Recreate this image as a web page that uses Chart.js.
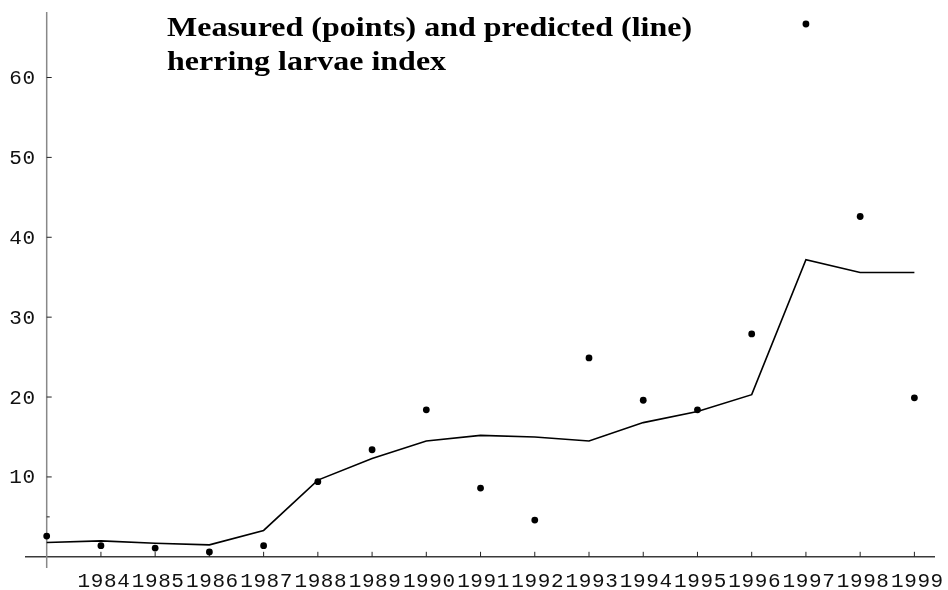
<!DOCTYPE html>
<html>
<head>
<meta charset="utf-8">
<script src="https://cdn.jsdelivr.net/npm/chart.js@4"></script>
<style>
  html, body { margin: 0; padding: 0; background: #fff; }
  #chart { display: block; }
</style>
</head>
<body>
<canvas id="chart" width="948" height="590"></canvas>
<script>
// ── data ────────────────────────────────────────────────────────
const years     = [1983, 1984, 1985, 1986, 1987, 1988, 1989, 1990, 1991,
                   1992, 1993, 1994, 1995, 1996, 1997, 1998, 1999];
const measured  = [2.6, 1.4, 1.1, 0.6, 1.4, 9.4, 13.4, 18.4, 8.6,
                   4.6, 24.9, 19.6, 18.4, 27.9, 66.7, 42.6, 19.9];
const predicted = [1.8, 2.0, 1.7, 1.5, 3.3, 9.6, 12.3, 14.5, 15.2,
                   15.0, 14.5, 16.8, 18.2, 20.3, 37.2, 35.6, 35.6];

const xTickLabels = ['1984', '1985', '1986', '1987', '1988', '1989', '1990', '1991',
                     '1992', '1993', '1994', '1995', '1996', '1997', '1998', '1999'];
const yTickLabels = ['10', '20', '30', '40', '50', '60'];
const yMinorTicks = [5];

const titleLines = ['Measured (points) and predicted (line)', 'herring larvae index'];

// ── axes crossing at (1983, 0), drawn from the chart's scales ───
const axesPlugin = {
  id: 'crossAxes',
  beforeDatasetsDraw(chart) {
    const { ctx, chartArea, scales: { x, y } } = chart;
    const ax = x.getPixelForValue(1983);
    const ay = y.getPixelForValue(0);

    ctx.save();
    ctx.lineWidth = 1.5;

    // x axis
    ctx.strokeStyle = '#3a3a3a';
    ctx.beginPath();
    ctx.moveTo(chartArea.left, ay);
    ctx.lineTo(chartArea.right, ay);
    ctx.stroke();

    // y axis
    ctx.strokeStyle = '#888';
    ctx.beginPath();
    ctx.moveTo(ax, chartArea.top);
    ctx.lineTo(ax, chartArea.bottom);
    ctx.stroke();

    // ticks + labels
    ctx.strokeStyle = '#222';
    ctx.lineWidth = 1;
    ctx.fillStyle = '#111';
    ctx.font = '21px "Liberation Mono", "DejaVu Sans Mono", monospace';
    ctx.letterSpacing = '0.6px';

    ctx.textAlign = 'right';
    ctx.textBaseline = 'middle';
    yTickLabels.forEach(lbl => {
      const py = y.getPixelForValue(Number(lbl));
      ctx.beginPath();
      ctx.moveTo(ax, py);
      ctx.lineTo(ax + 5, py);
      ctx.stroke();
      ctx.fillText(lbl, ax - 11, py + 1);
    });
    yMinorTicks.forEach(v => {
      const py = y.getPixelForValue(v);
      ctx.beginPath();
      ctx.moveTo(ax, py);
      ctx.lineTo(ax + 3, py);
      ctx.stroke();
    });

    ctx.textAlign = 'center';
    ctx.textBaseline = 'top';
    xTickLabels.forEach(lbl => {
      const px = x.getPixelForValue(Number(lbl));
      ctx.beginPath();
      ctx.moveTo(px, ay);
      ctx.lineTo(px, ay - 5);
      ctx.stroke();
      ctx.fillText(lbl, px + 3, ay + 14);
    });
    ctx.letterSpacing = '0px';

    // title inside plot, slightly widened like the original typeface
    ctx.textAlign = 'left';
    ctx.textBaseline = 'alphabetic';
    ctx.fillStyle = '#000';
    ctx.font = 'bold 28px "Liberation Serif", "Times New Roman", serif';
    ctx.translate(167, 0);
    ctx.scale(1.143, 1);
    ctx.fillText(titleLines[0], 0, 36);
    ctx.fillText(titleLines[1], 0, 70);

    ctx.restore();
  }
};

const ctx = document.getElementById('chart').getContext('2d');
new Chart(ctx, {
  type: 'scatter',
  data: {
    datasets: [
      {
        label: 'Predicted',
        data: years.map((yr, i) => ({ x: yr, y: predicted[i] })),
        showLine: true,
        borderColor: '#000',
        borderWidth: 1.6,
        pointRadius: 0,
        tension: 0,
        fill: false
      },
      {
        label: 'Measured',
        data: years.map((yr, i) => ({ x: yr, y: measured[i] })),
        showLine: false,
        backgroundColor: '#000',
        borderColor: '#000',
        pointRadius: 3.4,
        pointBorderWidth: 0
      }
    ]
  },
  options: {
    responsive: false,
    animation: false,
    devicePixelRatio: 1,
    layout: { padding: { left: 25, right: 13, top: 12, bottom: 22 } },
    plugins: {
      legend: { display: false },
      tooltip: { enabled: false },
      title: { display: false }
    },
    scales: {
      x: { type: 'linear', min: 1982.6, max: 1999.38, display: false },
      y: { type: 'linear', min: -1.4, max: 68.2, display: false }
    }
  },
  plugins: [axesPlugin]
});
</script>
</body>
</html>
